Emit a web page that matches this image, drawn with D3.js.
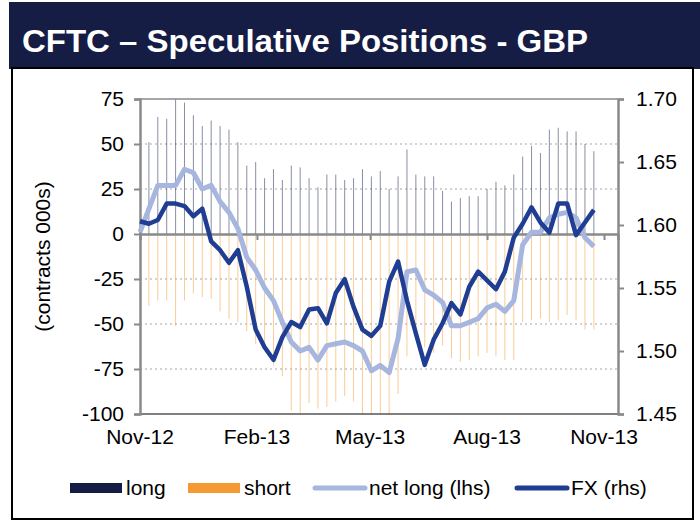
<!DOCTYPE html>
<html>
<head>
<meta charset="utf-8">
<script src="https://cdn.jsdelivr.net/npm/d3@7"></script>
<style>
  body { margin: 0; background: #fff; }
  text { font-family: Arial, "Liberation Sans", sans-serif; }
</style>
</head>
<body>
<div id="chart"></div>
<script>
// weekly observation dates
const weeks = [
  "2012-11-01", "2012-11-08", "2012-11-15", "2012-11-22", "2012-11-29",
  "2012-12-06", "2012-12-13", "2012-12-20", "2012-12-27",
  "2013-01-03", "2013-01-10", "2013-01-17", "2013-01-24", "2013-01-31",
  "2013-02-07", "2013-02-14", "2013-02-21", "2013-02-28",
  "2013-03-07", "2013-03-14", "2013-03-21", "2013-03-28",
  "2013-04-04", "2013-04-11", "2013-04-18", "2013-04-25",
  "2013-05-02", "2013-05-09", "2013-05-16", "2013-05-23", "2013-05-30",
  "2013-06-06", "2013-06-13", "2013-06-20", "2013-06-27",
  "2013-07-04", "2013-07-11", "2013-07-18", "2013-07-25",
  "2013-08-01", "2013-08-08", "2013-08-15", "2013-08-22", "2013-08-29",
  "2013-09-05", "2013-09-12", "2013-09-19", "2013-09-26",
  "2013-10-03", "2013-10-10", "2013-10-17", "2013-10-24"
];

// contracts (000s)
const longPos = [48, 51, 65, 64, 78, 73, 66, 60, 63, 60, 58, 51, 38, 40, 31, 36, 30, 38, 37, 31,
  26, 33, 33, 30, 31, 36, 32, 35, 25, 32, 47, 33, 32, 32, 24, 18, 20, 21, 21, 25,
  29, 27, 33, 43, 49, 45, 58, 59, 57, 57, 50, 46];
const shortPos = [-47, -40, -37, -37, -51, -37, -33, -35, -36, -43, -47, -49, -54, -61, -61, -73, -79, -98, -102, -94,
  -97, -96, -93, -90, -93, -101, -108, -108, -102, -89, -68, -53, -63, -66, -62, -69, -71, -70, -68, -66,
  -68, -70, -70, -49, -48, -47, -49, -48, -45, -48, -53, -53];
const netLong = [1, 14, 27, 27, 27, 36, 34, 25, 27, 18, 12, 3, -13, -20, -30, -37, -49, -60, -65, -63,
  -70, -62, -61, -60, -62, -65, -76, -73, -77, -58, -21, -20, -31, -34, -38, -51, -51, -49, -47, -41,
  -39, -43, -37, -6, 1, 1, 9, 11, 12, 9, -2, -7];
// GBPUSD
const fx = [1.603, 1.601, 1.604, 1.617, 1.617, 1.615, 1.607, 1.613, 1.587, 1.580, 1.570, 1.580, 1.551, 1.517, 1.503, 1.493, 1.511, 1.523, 1.519, 1.533,
  1.534, 1.522, 1.546, 1.557, 1.535, 1.517, 1.512, 1.520, 1.555, 1.571, 1.540, 1.514, 1.489, 1.509, 1.522, 1.538, 1.529, 1.551, 1.563, 1.556,
  1.549, 1.563, 1.590, 1.601, 1.614, 1.602, 1.594, 1.617, 1.617, 1.592, 1.602, 1.612];

const leftTicks = [-100, -75, -50, -25, 0, 25, 50, 75];
const rightTicks = [1.45, 1.50, 1.55, 1.60, 1.65, 1.70];
const monthTicks = ["2012-11-01", "2013-02-01", "2013-05-01", "2013-08-01", "2013-11-01"];
const legendItems = ["long", "short", "net long (lhs)", "FX (rhs)"];

const parseDate = d3.timeParse("%Y-%m-%d");
const data = weeks.map((w, i) => ({
  date: parseDate(w),
  long: longPos[i],
  short: shortPos[i],
  net: netLong[i],
  fx: fx[i]
}));
const tickDates = monthTicks.map(parseDate);

const navy = "#151d45", orange = "#f59a32", lightBlue = "#a6b6de", darkBlue = "#1f3d92";

const svg = d3.select("#chart").append("svg")
    .attr("width", 700)
    .attr("height", 525);

// header band and frame
svg.append("rect")
    .attr("x", 9).attr("y", 2)
    .attr("width", 691).attr("height", 67)
    .attr("fill", navy);

svg.append("text")
    .attr("x", 22).attr("y", 52)
    .attr("fill", "#fff")
    .attr("textLength", 566)
    .attr("lengthAdjust", "spacingAndGlyphs")
    .style("font-size", "31px")
    .style("font-weight", "bold")
    .text("CFTC – Speculative Positions - GBP");

svg.append("rect")
    .attr("x", 12).attr("y", 68)
    .attr("width", 681).attr("height", 451)
    .attr("fill", "#fff")
    .attr("stroke", "#000")
    .attr("stroke-width", 2);

// plot area
const plot = {left: 140, right: 618, top: 99, bottom: 414};

const x = d3.scaleTime()
    .domain([new Date(2012, 10, 1), new Date(2013, 10, 12)])
    .range([plot.left, plot.right]);

const y = d3.scaleLinear()
    .domain([-100, 75])
    .range([plot.bottom, plot.top]);

const y2 = d3.scaleLinear()
    .domain([1.45, 1.70])
    .range([plot.bottom, plot.top]);

svg.append("clipPath").attr("id", "clip")
  .append("rect")
    .attr("x", plot.left).attr("y", plot.top)
    .attr("width", plot.right - plot.left)
    .attr("height", plot.bottom - plot.top);

// dotted gridlines
svg.append("g")
  .selectAll("line")
  .data(leftTicks.filter(d => d !== 0 && d !== -100 && d !== 75))
  .enter().append("line")
    .attr("x1", plot.left).attr("x2", plot.right)
    .attr("y1", d => y(d)).attr("y2", d => y(d))
    .attr("stroke", "#c4c4c4")
    .attr("stroke-width", 1.5)
    .attr("stroke-dasharray", "2,3");

// long / short bars
const bars = svg.append("g").attr("clip-path", "url(#clip)");

bars.selectAll(".long")
  .data(data)
  .enter().append("line")
    .attr("class", "long")
    .attr("x1", d => x(d.date)).attr("x2", d => x(d.date))
    .attr("y1", y(0)).attr("y2", d => y(d.long))
    .attr("stroke", navy)
    .attr("stroke-opacity", 0.5)
    .attr("stroke-width", 1);

bars.selectAll(".short")
  .data(data)
  .enter().append("line")
    .attr("class", "short")
    .attr("x1", d => x(d.date)).attr("x2", d => x(d.date))
    .attr("y1", y(0)).attr("y2", d => y(d.short))
    .attr("stroke", orange)
    .attr("stroke-opacity", 0.5)
    .attr("stroke-width", 1);

// top and bottom frame of plot
svg.append("line")
    .attr("x1", plot.left).attr("x2", plot.right)
    .attr("y1", plot.top).attr("y2", plot.top)
    .attr("stroke", "#8a8a8a").attr("stroke-width", 1.5);
svg.append("line")
    .attr("x1", plot.left).attr("x2", plot.right)
    .attr("y1", plot.bottom).attr("y2", plot.bottom)
    .attr("stroke", "#555").attr("stroke-width", 1.5);

// left axis
const leftAxis = svg.append("g")
    .attr("transform", `translate(${plot.left},0)`)
    .call(d3.axisLeft(y).tickValues(leftTicks).tickFormat(d => String(d)).tickSize(6).tickPadding(10));
leftAxis.select(".domain").attr("stroke", "#8a8a8a").attr("stroke-width", 2.5);
leftAxis.selectAll(".tick line").attr("stroke", "#8a8a8a").attr("stroke-width", 2);
leftAxis.selectAll("text").style("font-size", "21px").attr("fill", "#000");

// right axis
const rightAxis = svg.append("g")
    .attr("transform", `translate(${plot.right},0)`)
    .call(d3.axisRight(y2).tickValues(rightTicks).tickFormat(d3.format(".2f")).tickSize(6).tickPadding(12));
rightAxis.select(".domain").attr("stroke", "#8a8a8a").attr("stroke-width", 2.5);
rightAxis.selectAll(".tick line").attr("stroke", "#8a8a8a").attr("stroke-width", 2);
rightAxis.selectAll("text").style("font-size", "21px").attr("fill", "#000");

// zero line with month ticks
const xAxis = svg.append("g")
    .attr("transform", `translate(0,${y(0)})`)
    .call(d3.axisBottom(x).tickValues(tickDates).tickSize(6).tickFormat(""));
xAxis.select(".domain").attr("stroke", "#8a8a8a").attr("stroke-width", 2.5);
xAxis.selectAll(".tick line").attr("stroke", "#8a8a8a").attr("stroke-width", 2);

// month labels below the plot
svg.append("g")
  .selectAll("text")
  .data(tickDates)
  .enter().append("text")
    .attr("x", d => x(d))
    .attr("y", 444)
    .attr("text-anchor", "middle")
    .style("font-size", "21px")
    .text(d3.timeFormat("%b-%y"));

// y label
svg.append("text")
    .attr("transform", "rotate(-90)")
    .attr("x", -(plot.top + plot.bottom) / 2)
    .attr("y", 50)
    .attr("text-anchor", "middle")
    .style("font-size", "21px")
    .text("(contracts 000s)");

// net long and FX lines
svg.append("path")
    .datum(data)
    .attr("fill", "none")
    .attr("stroke", lightBlue)
    .attr("stroke-width", 5)
    .attr("stroke-linejoin", "round")
    .attr("d", d3.line().x(d => x(d.date)).y(d => y(d.net)));

svg.append("path")
    .datum(data)
    .attr("fill", "none")
    .attr("stroke", darkBlue)
    .attr("stroke-width", 4.5)
    .attr("stroke-linejoin", "round")
    .attr("d", d3.line().x(d => x(d.date)).y(d => y2(d.fx)));

// legend
const legendX = [70, 188, 313, 515];
const legend = svg.selectAll(".legend")
  .data(legendItems)
  .enter().append("g")
    .attr("class", "legend")
    .attr("transform", (d, i) => `translate(${legendX[i]},488)`);

legend.filter((d, i) => i < 2).append("rect")
    .attr("x", 0).attr("y", -5)
    .attr("width", 52).attr("height", 10)
    .attr("fill", (d, i) => i === 0 ? navy : orange);

legend.filter((d, i) => i >= 2).append("line")
    .attr("x1", 2).attr("x2", 52)
    .attr("y1", 0).attr("y2", 0)
    .attr("stroke-linecap", "round")
    .attr("stroke-width", 5)
    .attr("stroke", (d, i) => i === 0 ? lightBlue : darkBlue);

legend.append("text")
    .attr("x", 56)
    .attr("y", 0)
    .attr("dy", ".35em")
    .style("font-size", "21px")
    .text(d => d);
</script>
</body>
</html>
